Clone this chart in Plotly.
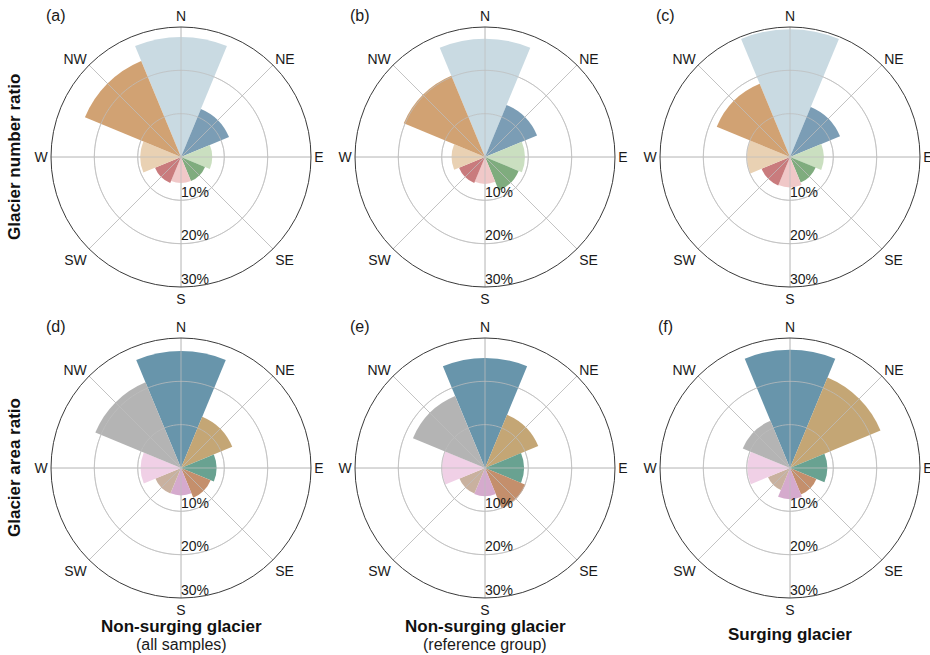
import plotly.graph_objects as go

# Aspect classes and their bearings (degrees clockwise from north)
directions = ["N", "NE", "E", "SE", "S", "SW", "W", "NW"]
bearings = [0, 45, 90, 135, 180, 225, 270, 315]

# Share of glaciers per aspect (%), ordered as `directions`
number_all = [27.7, 12.0, 7.2, 6.0, 6.0, 6.5, 9.4, 24.0]
number_ref = [27.3, 13.0, 9.2, 8.4, 6.2, 6.5, 7.7, 20.3]
number_surge = [29.5, 12.5, 7.8, 6.4, 7.0, 7.1, 9.9, 18.3]

# Share of glacier area per aspect (%)
area_all = [27.0, 12.8, 8.2, 7.4, 6.3, 6.4, 9.3, 21.4]
area_ref = [25.4, 13.3, 9.0, 10.1, 6.5, 6.4, 9.9, 18.0]
area_surge = [27.3, 22.6, 8.6, 6.6, 7.2, 5.5, 9.8, 11.8]

radial_ticks = [10, 20, 30]
radial_tick_text = ["10%", "20%", "30%"]

panel_letters = ["(a)", "(b)", "(c)", "(d)", "(e)", "(f)"]
row_titles = ["Glacier number ratio", "Glacier area ratio"]
col_titles = ["Non-surging glacier", "Non-surging glacier", "Surging glacier"]
col_subtitles = ["(all samples)", "(reference group)", ""]

number_colors = ["#c9dae2", "#7b9db5", "#cadfc0", "#7fac7e",
                 "#f0c8c8", "#c97b7d", "#e9d1b3", "#d1a273"]
area_colors = ["#6895ab", "#c4a675", "#69a291", "#c48f6c",
               "#d5aacd", "#c9b19f", "#f0d0e6", "#b4b4b4"]

W, H = 930, 655
R = 130
col_cx = [181, 485, 790]
row_cy = [157, 468]
FONT = "Liberation Sans, Arial, Helvetica, sans-serif"
GRID = "rgba(190,190,190,0.75)"

panels = [
    (number_all, number_colors), (number_ref, number_colors), (number_surge, number_colors),
    (area_all, area_colors), (area_ref, area_colors), (area_surge, area_colors),
]

fig = go.Figure()
layout = {}
annotations = []

# spokes and rings drawn over the bars
spoke_r, spoke_t = [], []
for b in bearings:
    spoke_r += [0, radial_ticks[-1], None]
    spoke_t += [b, b, None]
ring_t = list(range(0, 361, 2))


def note(text, x, y, size, bold=False, angle=0, color="#1a1a1a"):
    annotations.append(dict(
        text=f"<b>{text}</b>" if bold else text,
        x=x / W, y=1 - y / H, xref="paper", yref="paper",
        xanchor="center", yanchor="middle", textangle=angle, showarrow=False,
        font=dict(family=FONT, size=size, color=color),
    ))


for i, (values, colors) in enumerate(panels):
    row, col = divmod(i, 3)
    cx, cy = col_cx[col], row_cy[row]
    name = "polar" if i == 0 else f"polar{i + 1}"

    fig.add_trace(go.Barpolar(
        r=values, theta=bearings, width=[45] * len(bearings),
        marker=dict(color=colors, line=dict(width=0)),
        subplot=name, showlegend=False, hoverinfo="r+theta",
    ))
    fig.add_trace(go.Scatterpolar(
        r=spoke_r, theta=spoke_t, mode="lines",
        line=dict(color=GRID, width=1), subplot=name,
        showlegend=False, hoverinfo="skip",
    ))
    for rt in radial_ticks[:-1]:
        fig.add_trace(go.Scatterpolar(
            r=[rt] * len(ring_t), theta=ring_t, mode="lines",
            line=dict(color=GRID, width=1), subplot=name,
            showlegend=False, hoverinfo="skip",
        ))
    fig.add_trace(go.Scatterpolar(
        r=radial_ticks, theta=[180] * len(radial_ticks), mode="text",
        text=radial_tick_text, textposition="top right",
        textfont=dict(family=FONT, size=14, color="#1a1a1a"),
        subplot=name, showlegend=False, hoverinfo="skip", cliponaxis=False,
    ))

    layout[name] = dict(
        domain=dict(x=[(cx - R) / W, (cx + R) / W],
                    y=[1 - (cy + R) / H, 1 - (cy - R) / H]),
        bgcolor="white",
        radialaxis=dict(range=[0, 30], tickvals=radial_ticks, showticklabels=False,
                        ticks="", showline=False, gridcolor="#d4d4d4", gridwidth=1),
        angularaxis=dict(rotation=90, direction="clockwise", tickmode="array",
                         tickvals=bearings, ticktext=directions, ticks="",
                         showline=True, linecolor="#3a3a3a", linewidth=1,
                         gridcolor="#d4d4d4", gridwidth=1, layer="above traces",
                         tickfont=dict(family=FONT, size=14, color="#1a1a1a")),
    )

    note(panel_letters[i], cx - 125, cy - 142, 16)

for row, title in enumerate(row_titles):
    note(title, 15, row_cy[row], 17, bold=True, angle=-90, color="#111111")

for col, title in enumerate(col_titles):
    sub = col_subtitles[col]
    note(title, col_cx[col], 626 if sub else 634, 17, bold=True, color="#111111")
    if sub:
        note(sub, col_cx[col], 644, 16)

fig.update_layout(
    width=W, height=H, margin=dict(l=0, r=0, t=0, b=0),
    paper_bgcolor="white", plot_bgcolor="white",
    annotations=annotations, showlegend=False, **layout,
)

fig.write_html("out.html")
